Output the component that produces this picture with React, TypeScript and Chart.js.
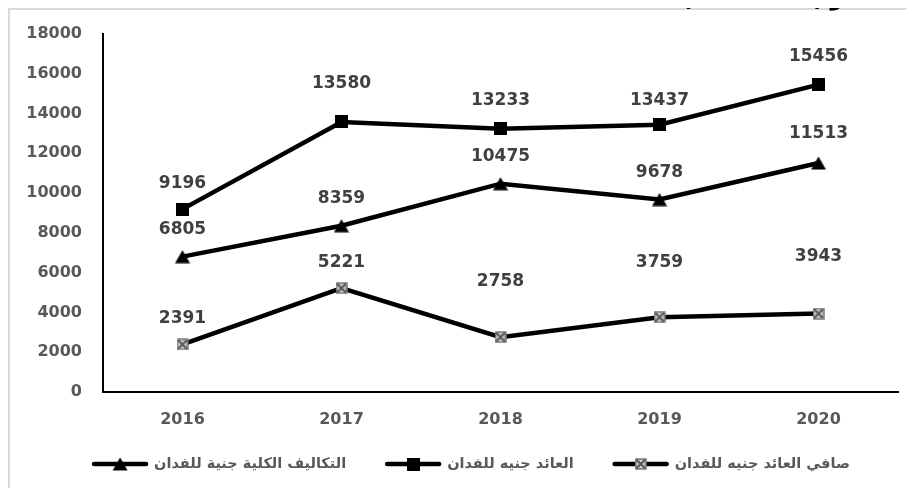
import React, { useEffect, useRef } from "react";
import { Chart, registerables } from "chart.js";

Chart.register(...registerables);

// ---- data ----
const years = ["2016", "2017", "2018", "2019", "2020"];
const costs = [6805, 8359, 10475, 9678, 11513];
const revenue = [9196, 13580, 13233, 13437, 15456];
const net = [2391, 5221, 2758, 3759, 3943];
const seriesNames = [
  "التكاليف الكلية جنية للفدان",
  "العائد جنيه للفدان",
  "صافي العائد جنيه للفدان",
];
const yMin = 0;
const yMax = 18000;
const yStep = 2000;
const titleText = "(2016-2020) و";

// label placement (pixels above each point), style only
const labelLift = [
  [27, 27, 27, 27, 29],
  [26, 38, 28, 24, 28],
  [26, 26, 56, 55, 57],
];

const FONT = "'DejaVu Sans', Verdana, sans-serif";

function makeMarker(kind: string): HTMLCanvasElement {
  const c = document.createElement("canvas");
  if (kind === "square") {
    c.width = 13;
    c.height = 13;
    const g = c.getContext("2d")!;
    g.fillStyle = "#000";
    g.fillRect(0, 0, 13, 13);
  } else if (kind === "triangle") {
    c.width = 16;
    c.height = 14;
    const g = c.getContext("2d")!;
    g.fillStyle = "#000";
    g.beginPath();
    g.moveTo(8, 0.5);
    g.lineTo(15.5, 13.5);
    g.lineTo(0.5, 13.5);
    g.closePath();
    g.fill();
  } else {
    c.width = 12;
    c.height = 12;
    const g = c.getContext("2d")!;
    g.fillStyle = "#d0d0d0";
    g.fillRect(1, 1, 10, 10);
    g.strokeStyle = "#7a7a7a";
    g.lineWidth = 1.5;
    g.strokeRect(1, 1, 10, 10);
    g.beginPath();
    g.moveTo(1.5, 1.5);
    g.lineTo(10.5, 10.5);
    g.moveTo(10.5, 1.5);
    g.lineTo(1.5, 10.5);
    g.strokeStyle = "#555";
    g.lineWidth = 2;
    g.stroke();
  }
  return c;
}

export default function App() {
  const ref = useRef<HTMLCanvasElement | null>(null);

  useEffect(() => {
    if (!ref.current) return;
    const markers = [makeMarker("triangle"), makeMarker("square"), makeMarker("xbox")];

    const dataLabels = {
      id: "dataLabels",
      afterDatasetsDraw(chart: any) {
        const ctx = chart.ctx;
        ctx.save();
        ctx.font = `bold 17px ${FONT}`;
        ctx.fillStyle = "#404040";
        ctx.textAlign = "center";
        ctx.textBaseline = "middle";
        chart.data.datasets.forEach((ds: any, i: number) => {
          const meta = chart.getDatasetMeta(i);
          meta.data.forEach((pt: any, j: number) => {
            ctx.fillText(String(ds.data[j]), pt.x, pt.y - labelLift[i][j]);
          });
        });
        ctx.restore();
      },
    };

    const customLegend = {
      id: "customLegend",
      afterDraw(chart: any) {
        const ctx = chart.ctx;
        const area = chart.chartArea;
        ctx.save();
        ctx.font = `bold 14.5px ${FONT}`;
        const sampleW = 58;
        const gapIn = 5;
        const gapOut = 38;
        const widths = seriesNames.map((n) => sampleW + gapIn + ctx.measureText(n).width);
        const total = widths.reduce((a, b) => a + b, 0) + gapOut * (widths.length - 1);
        let x = (area.left + area.right) / 2 - 30 - total / 2;
        const y = chart.height - 24;
        seriesNames.forEach((name, i) => {
          ctx.strokeStyle = "#000";
          ctx.lineWidth = 4.5;
          ctx.lineCap = "round";
          ctx.beginPath();
          ctx.moveTo(x + 3, y);
          ctx.lineTo(x + sampleW - 3, y);
          ctx.stroke();
          const m = markers[i];
          ctx.drawImage(m, x + sampleW / 2 - m.width / 2, y - m.height / 2);
          ctx.fillStyle = "#595959";
          ctx.textAlign = "left";
          ctx.textBaseline = "middle";
          ctx.fillText(name, x + sampleW + gapIn, y);
          x += widths[i] + gapOut;
        });
        ctx.restore();
      },
    };

    const seriesData = [costs, revenue, net];
    const chart = new Chart(ref.current, {
      type: "line",
      data: {
        labels: years,
        datasets: seriesData.map((d, i) => ({
          label: seriesNames[i],
          data: d,
          borderColor: "#000",
          backgroundColor: "#000",
          borderWidth: 4.5,
          tension: 0,
          pointStyle: markers[i] as any,
          pointRadius: 6,
        })),
      },
      options: {
        animation: false,
        responsive: true,
        maintainAspectRatio: false,
        layout: { autoPadding: false, padding: { top: 24, right: 16, bottom: 56, left: 0 } },
        plugins: {
          legend: { display: false },
          tooltip: { enabled: false },
          title: { display: false },
        },
        scales: {
          x: {
            offset: true,
            grid: { display: false, drawTicks: false },
            border: { display: true, color: "#000", width: 2 },
            ticks: {
              color: "#595959",
              font: { family: FONT, size: 16, weight: "bold" },
              padding: 18,
              maxRotation: 0,
            },
            afterFit: (s: any) => {
              s.height = 40;
            },
          },
          y: {
            min: yMin,
            max: yMax,
            grid: { display: false, drawTicks: false },
            border: { display: true, color: "#000", width: 2 },
            ticks: {
              stepSize: yStep,
              color: "#595959",
              font: { family: FONT, size: 16, weight: "bold" },
              padding: 21,
              callback: (v: any) => String(v),
            },
            afterFit: (s: any) => {
              s.width = 93;
              s.paddingTop = 10;
              s.paddingBottom = 10;
            },
          },
        },
      },
      plugins: [dataLabels, customLegend],
    });
    return () => chart.destroy();
  }, []);

  return (
    <div
      style={{
        position: "relative",
        width: 904,
        height: 478,
        borderTop: "2px solid #d9d9d9",
        borderLeft: "2px solid #d9d9d9",
        background: "#fff",
      }}
    >
      <canvas ref={ref} width={904} height={478} style={{ display: "block" }} />
      <div
        style={{
          position: "absolute",
          top: -28,
          left: 672,
          fontFamily: "'Liberation Sans', Arial, sans-serif",
          fontWeight: "bold",
          fontSize: 26,
          lineHeight: "26px",
          whiteSpace: "nowrap",
          color: "#000",
        }}
      >
        {titleText}
      </div>
    </div>
  );
}
